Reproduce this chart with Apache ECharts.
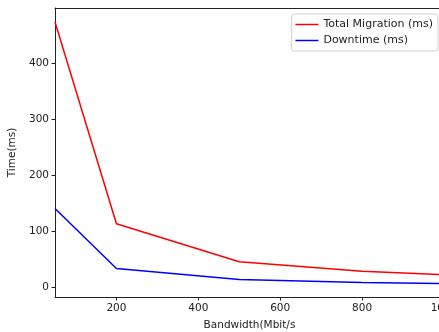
<!DOCTYPE html>
<html><head><meta charset="utf-8">
<script src="https://cdn.jsdelivr.net/npm/echarts@6/dist/echarts.min.js"></script>
<style>html,body{margin:0;padding:0;background:#fff}#c{width:439px;height:332px}</style>
</head><body><div id="c"></div>
<script>
const bandwidth = [50, 200, 500, 800, 1000];
const totalMigration = [474, 114, 46, 29, 23];
const downtime = [141, 34, 14.5, 9, 7];
const xTicks = [200, 400, 600, 800, 1000];
const yTicks = [0, 100, 200, 300, 400];
const seriesNames = ['Total Migration (ms)', 'Downtime (ms)'];

const font = 'DejaVu Sans';
const chart = echarts.init(document.getElementById('c'), null, {renderer: 'canvas'});
chart.setOption({
  animation: false,
  grid: {left: 55, top: 8, right: -5, bottom: 35, outerBoundsMode: 'none', containLabel: false, show: false},
  legend: {
    orient: 'vertical', right: 1, top: 14, itemGap: 5,
    icon: 'rect', itemWidth: 23, itemHeight: 1.5,
    borderColor: '#d0d0d0', borderWidth: 1, borderRadius: 3, padding: [5, 5, 5, 4],
    textStyle: {fontFamily: font, fontSize: 11, color: '#222'},
    data: seriesNames
  },
  xAxis: [{
    type: 'value', min: 50, max: 1000,
    name: 'Bandwidth(Mbit/s', nameLocation: 'middle', nameGap: 23,
    nameTextStyle: {fontFamily: font, fontSize: 10.5, color: '#222'},
    axisLine: {show: true, onZero: false, lineStyle: {color: '#222', width: 1}},
    axisTick: {show: true, length: 3.5, customValues: xTicks, lineStyle: {color: '#222'}},
    axisLabel: {customValues: xTicks, formatter: v => String(v), hideOverlap: false, fontFamily: font, fontSize: 10.5, color: '#222', margin: 6},
    splitLine: {show: false}
  }, {
    type: 'value', min: 50, max: 1000, position: 'top',
    axisLine: {show: true, onZero: false, lineStyle: {color: '#222', width: 1}},
    axisTick: {show: false}, axisLabel: {show: false}, splitLine: {show: false}
  }],
  yAxis: {
    type: 'value', min: -16.8, max: 499,
    name: 'Time(ms)', nameLocation: 'middle', nameGap: 30,
    nameTextStyle: {fontFamily: font, fontSize: 10.5, color: '#222'},
    axisLine: {show: true, onZero: false, lineStyle: {color: '#222', width: 1}},
    axisTick: {show: true, length: 3.5, customValues: yTicks, lineStyle: {color: '#222'}},
    axisLabel: {customValues: yTicks, formatter: v => String(v), fontFamily: font, fontSize: 10.5, color: '#222', margin: 6},
    splitLine: {show: false}
  },
  series: [
    {name: seriesNames[0], type: 'line', data: bandwidth.map((x, i) => [x, totalMigration[i]]), showSymbol: false, lineStyle: {color: '#ff0000', width: 1.5}, itemStyle: {color: '#ff0000'}},
    {name: seriesNames[1], type: 'line', data: bandwidth.map((x, i) => [x, downtime[i]]), showSymbol: false, lineStyle: {color: '#0000ff', width: 1.5}, itemStyle: {color: '#0000ff'}}
  ]
});
</script></body></html>
